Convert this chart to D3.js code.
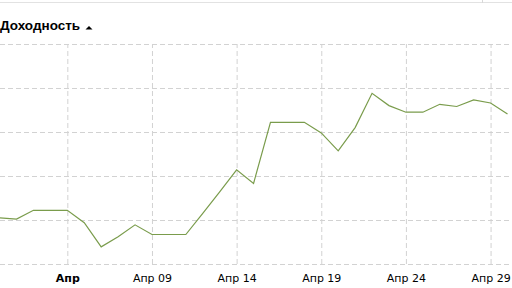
<!DOCTYPE html>
<html>
<head>
<meta charset="utf-8">
<script src="https://cdn.jsdelivr.net/npm/d3@7"></script>
<style>
  body { margin: 0; background: #fff; }
  svg { display: block; }
  .grid line { stroke: #d2d2d2; stroke-dasharray: 5,3; }
  .grid path { display: none; }
  .x.axis text { font-family: "DejaVu Sans", Verdana, sans-serif; font-size: 11px; fill: #000; }
</style>
</head>
<body>
<svg class="chart"></svg>
<script>
// daily values, Mar 31 .. Apr 30
var startDay = Date.UTC(2014, 2, 31);
var values = [1.05, 1.02, 1.22, 1.22, 1.22, 0.94, 0.39, 0.62, 0.89, 0.67,
  0.67, 0.67, 1.15, 1.64, 2.14, 1.83, 3.22, 3.22, 3.22, 2.98,
  2.57, 3.10, 3.88, 3.60, 3.45, 3.45, 3.63, 3.58, 3.73, 3.66, 3.41];
var gridValues = [0, 1, 2, 3, 4, 5];
var tickDays = [4, 9, 14, 19, 24, 29];
var tickLabels = ['Апр', 'Апр 09', 'Апр 14', 'Апр 19', 'Апр 24', 'Апр 29'];

var width = 512;
var height = 288;
var plotTop = 44, plotBottom = 264;

var data = values.map((v, i) => ({ date: new Date(startDay + i * 864e5), value: v }));

var x = d3.scaleUtc()
  .domain([data[0].date, data[data.length - 1].date])
  .range([-0.4, 507.5]);
var y = d3.scaleLinear().domain([0, 5]).range([plotBottom, plotTop]);

var chart = d3.select('.chart')
  .attr('width', width)
  .attr('height', height);

// top border
chart.append('line')
  .attr('x1', 0).attr('x2', width)
  .attr('y1', 2.5).attr('y2', 2.5)
  .style('stroke', '#e2e2e2');
chart.append('line')
  .attr('x1', 482.5).attr('x2', 482.5)
  .attr('y1', 0).attr('y2', 3)
  .style('stroke', '#d8d8d8');

// title
chart.append('text')
  .attr('x', 0)
  .attr('y', 30)
  .style('font-family', '"Liberation Sans", Arial, sans-serif')
  .style('font-size', '13.5px')
  .style('font-weight', 'bold')
  .style('fill', '#000')
  .text('Доходность');
chart.append('path')
  .attr('d', 'M85.5,29.5L92.5,29.5L89,26Z')
  .style('fill', '#000');

chart.append('g')
  .attr('class', 'grid')
  .call(d3.axisLeft(y).tickValues(gridValues).tickSize(-width).tickFormat(''));

var xAxis = d3.axisBottom(x)
  .tickValues(tickDays.map(d => new Date(Date.UTC(2014, 3, d))))
  .tickSize(-(plotBottom - plotTop))
  .tickPadding(10)
  .tickFormat((d, i) => tickLabels[i]);

chart.append('g')
  .attr('class', 'x axis grid')
  .attr('transform', 'translate(0,' + plotBottom + ')')
  .call(xAxis);

d3.selectAll('.x.axis text')
  .style('font-weight', (d, i) => i == 0 ? 'bold' : 'normal');

var line = d3.line()
  .x(d => x(d.date))
  .y(d => y(d.value));

chart.append('path')
  .datum(data)
  .attr('d', line)
  .style('fill', 'none')
  .style('stroke', '#7a9c4c')
  .style('stroke-width', 1.2);
</script>
</body>
</html>
